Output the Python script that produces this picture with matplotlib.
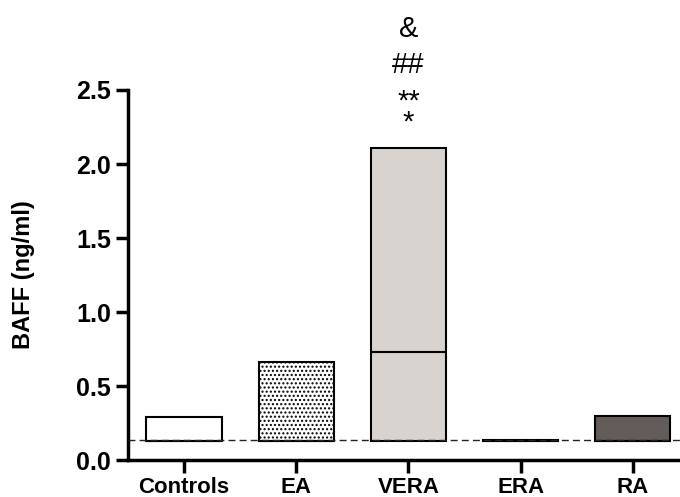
import numpy as np
import matplotlib.pyplot as plt

plt.rcParams['font.family'] = ['Liberation Sans', 'DejaVu Sans']
plt.rcParams['hatch.linewidth'] = 1.0

groups = ['Controls', 'EA', 'VERA', 'ERA', 'RA']
low = [0.13, 0.13, 0.13, 0.13, 0.13]
high = [0.29, 0.66, 2.11, 0.135, 0.30]
median = [0.13, 0.13, 0.73, 0.13, 0.13]
fills = ['white', 'white', '#d9d3d0', 'white', '#645c58']
hatches = [None, '....', None, None, None]
detect_limit = 0.135
# significance marks above VERA
marks = ['**\n*', '##', '&']
mark_y = [2.35, 2.667, 2.91]

fig = plt.figure(figsize=(6.8, 4.97), dpi=100)
ax = fig.add_axes([0.188, 0.074, 0.812, 0.745])

x = np.arange(len(groups))
w = 0.67
for i in range(len(groups)):
    ax.bar(x[i], high[i] - low[i], bottom=low[i], width=w, color=fills[i],
           edgecolor='black', linewidth=1.5, hatch=hatches[i], zorder=2)
    ax.hlines(median[i], x[i] - w / 2, x[i] + w / 2, color='black', lw=1.5, zorder=3)

ax.axhline(detect_limit, color='#222222', lw=1.0, ls=(0, (5, 3)), zorder=4)

for s, yy in zip(marks, mark_y):
    ax.text(x[2], yy, s, ha='center', va='center', fontsize=21,
            linespacing=0.7, clip_on=False)

ax.set_xlim(-0.5, 4.42)
ax.set_ylim(0, 2.5)
ax.set_yticks([0.0, 0.5, 1.0, 1.5, 2.0, 2.5])
ax.set_yticklabels(['0.0', '0.5', '1.0', '1.5', '2.0', '2.5'], fontsize=18, fontweight='bold')
ax.set_xticks(x)
ax.set_xticklabels(groups, fontsize=16, fontweight='bold')
ax.set_ylabel('BAFF (ng/ml)', fontsize=17, fontweight='bold')
ax.yaxis.set_label_coords(-0.168, 0.5)

for side in ['top', 'right']:
    ax.spines[side].set_visible(False)
for side in ['left', 'bottom']:
    ax.spines[side].set_linewidth(2.5)
ax.tick_params(axis='both', width=2.5, length=9, direction='out', pad=3)

fig.savefig('out.png', dpi=100)
